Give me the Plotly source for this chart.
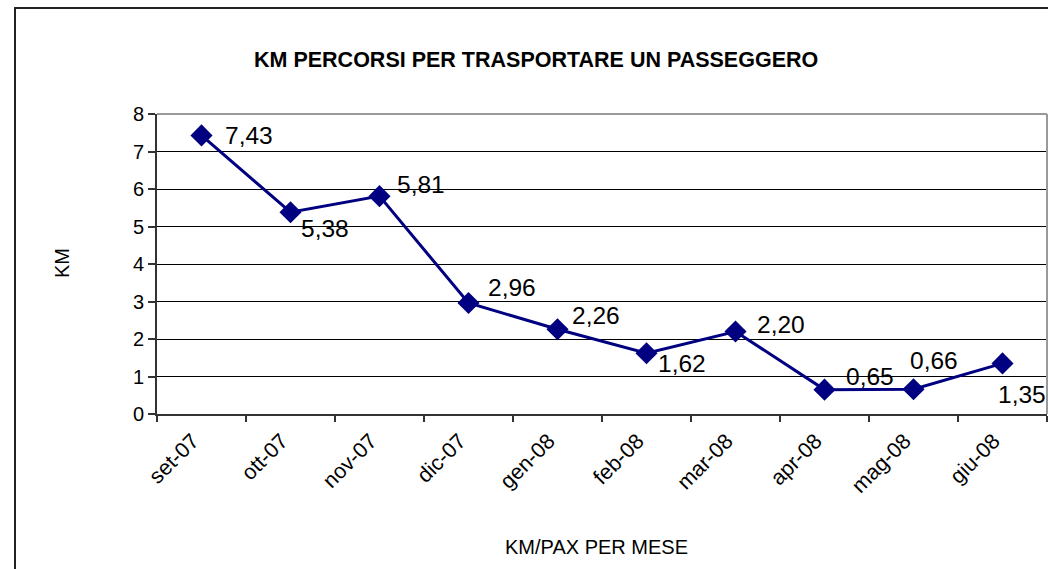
import plotly.graph_objects as go

# ---- data ----
months = ["set-07", "ott-07", "nov-07", "dic-07", "gen-08",
          "feb-08", "mar-08", "apr-08", "mag-08", "giu-08"]
km_per_pax = [7.43, 5.38, 5.81, 2.96, 2.26, 1.62, 2.20, 0.65, 0.66, 1.35]
y_ticks = [0, 1, 2, 3, 4, 5, 6, 7, 8]

title_text = "KM PERCORSI PER TRASPORTARE UN PASSEGGERO"
x_title = "KM/PAX PER MESE"
y_title = "KM"

# label offsets in pixels (left edge dx, centre dy; screen y down)
label_dx = [21, 8, 15, 17, 12, 9, 19, 19, -6, -7]
label_dy = [0, 16, -12, -16, -14, 10, -7, -13, -29, 31]

FONT = "Arial, Liberation Sans, sans-serif"
NAVY = "#000080"

W, H = 1048, 569
L, R, T, B = 157, 1, 114, 569 - 414
pw, ph = W - L - R, H - T - B


def px(xp):
    return (xp - L) / pw


def py(yp):
    return 1 - (yp - T) / ph


fig = go.Figure()
fig.add_trace(go.Scatter(
    x=months, y=km_per_pax, mode="lines+markers",
    line=dict(color=NAVY, width=3),
    marker=dict(symbol="diamond", size=17, color=NAVY),
    hoverinfo="skip", showlegend=False,
))

annotations = []
for m, v, dx, dy in zip(months, km_per_pax, label_dx, label_dy):
    annotations.append(dict(
        x=m, y=v, xref="x", yref="y", text=f"{v:.2f}".replace(".", ","),
        showarrow=False, xanchor="left", yanchor="middle",
        xshift=dx, yshift=-dy,
        font=dict(family=FONT, size=24.5, color="black"),
    ))

annotations += [
    dict(text=f"<b>{title_text}</b>", x=px(535.5), y=py(60), xref="paper", yref="paper",
         showarrow=False, xanchor="center", yanchor="middle",
         font=dict(family=FONT, size=21.5, color="black")),
    dict(text=x_title, x=px(596), y=py(547), xref="paper", yref="paper",
         showarrow=False, xanchor="center", yanchor="middle",
         font=dict(family=FONT, size=20, color="black")),
    dict(text=y_title, x=px(62), y=py(263), xref="paper", yref="paper",
         showarrow=False, xanchor="center", yanchor="middle", textangle=-90,
         font=dict(family=FONT, size=20, color="black")),
]

shapes = [
    # outer chart border
    dict(type="rect", xref="paper", yref="paper", x0=px(15), x1=px(1100),
         y0=py(620), y1=py(8), line=dict(color="#222222", width=2), layer="below"),
    # plot-area top and right border (grey)
    dict(type="line", xref="paper", yref="paper", x0=0, x1=1, y0=1, y1=1,
         line=dict(color="#999999", width=2)),
    dict(type="line", xref="paper", yref="paper", x0=1, x1=1, y0=0, y1=1,
         line=dict(color="#999999", width=2)),
]

fig.update_layout(
    width=W, height=H,
    margin=dict(l=L, r=R, t=T, b=B),
    paper_bgcolor="white", plot_bgcolor="white",
    annotations=annotations, shapes=shapes,
    font=dict(family=FONT, color="black"),
    xaxis=dict(
        type="category", categoryorder="array", categoryarray=months,
        range=[-0.5, len(months) - 0.5],
        showline=True, linecolor="#333333", linewidth=2,
        ticks="outside", ticklen=6, tickwidth=2, tickcolor="#333333",
        tickson="boundaries", tickangle=-45, showgrid=False,
        ticklabelshift=-9, ticklabelstandoff=4,
        tickfont=dict(family=FONT, size=21.5, color="black"),
    ),
    yaxis=dict(
        range=[0, 8], tickvals=y_ticks, ticktext=[str(t) for t in y_ticks],
        showline=True, linecolor="#333333", linewidth=2,
        ticks="outside", ticklen=7, tickwidth=2, tickcolor="#333333",
        showgrid=True, gridcolor="black", gridwidth=1, zeroline=False,
        tickfont=dict(family=FONT, size=20, color="black"),
    ),
)

fig.write_html("out.html",
               config={"displayModeBar": False, "staticPlot": True},
               post_script="document.body.style.margin='0';document.body.style.overflow='hidden';")
